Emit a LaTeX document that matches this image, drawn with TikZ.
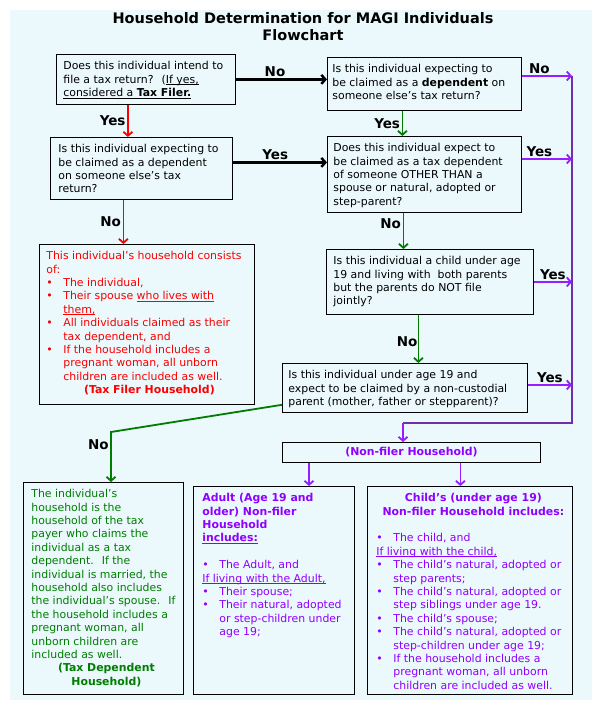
\documentclass[tikz,border=0pt]{standalone}
\usepackage{fontspec}
\setmainfont{DejaVu Sans}
\usetikzlibrary{arrows.meta}

\definecolor{bgcyan}{RGB}{235,249,253}
\definecolor{fhred}{RGB}{250,0,0}
\definecolor{tdgreen}{RGB}{0,125,0}
\definecolor{nfviolet}{RGB}{145,0,255}
\definecolor{busviolet}{RGB}{112,48,170}
\definecolor{arrowviolet}{RGB}{150,30,255}

% text of a box: left pad, box width, box height, contents
\newcommand{\boxtext}[4]{\hspace*{#1}\parbox[t][\dimexpr#3-14pt\relax][t]{\dimexpr#2-#1-2pt\relax}{\raggedright #4}\hspace*{2pt}}
\newcommand{\bul}[1]{\par\hangindent=17pt\hangafter=1\noindent\makebox[17pt][l]{\textbullet}#1}
\newcommand{\uln}[1]{\underline{\smash{#1}}}

\begin{document}
\begin{tikzpicture}[x=1pt,y=-1pt,>={Straight Barb[length=4pt,width=9pt]}]
	\tikzstyle{box}=[draw, line width=0.8pt, anchor=north west, inner xsep=0pt, inner ysep=7pt, font=\fontsize{10.9}{13.4}\selectfont]
	\tikzstyle{lbl}=[text=black, font=\fontsize{13.5}{16}\selectfont\bfseries, inner sep=1.5pt]
	\tikzstyle{blackarrow}=[->, line width=2.5pt]
	\tikzstyle{redarrow}=[->, line width=1.8pt, fhred]
	\tikzstyle{greenarrow}=[->, line width=1.8pt, tdgreen]
	\tikzstyle{violetarrow}=[->, line width=1.8pt, arrowviolet]
	\tikzstyle{busline}=[line width=2pt, busviolet]
	\fill[white] (0,0) rectangle (603,711);
	\useasboundingbox (0,0) rectangle (603,711);
	\fill[bgcyan] (10,10) rectangle (592,700);
		\node[font=\fontsize{14.5}{17}\selectfont\bfseries, align=center] (title) at (303,27) {Household Determination for MAGI Individuals\\Flowchart};
	% questions
		\node[box] (filer) at (56,54) {\boxtext{7pt}{179pt}{50pt}{Does this individual intend to\\ file a tax return?~ (\uln{If yes,}\\ \uln{considered a \textbf{Tax Filer.}}}};
		\node[box] (dependent) at (327,57) {\boxtext{5pt}{194pt}{53pt}{Is this individual expecting to\\ be claimed as a \textbf{dependent} on\\ someone else’s tax return?}};
		\node[box] (expect) at (50,137) {\boxtext{8pt}{182pt}{62pt}{Is this individual expecting to\\ be claimed as a dependent\\ on someone else’s tax\\ return?}};
		\node[box] (other) at (327,136) {\boxtext{6pt}{194pt}{76pt}{Does this individual expect to\\ be claimed as a tax dependent\\ of someone OTHER THAN a\\ spouse or natural, adopted or\\ step-parent?}};
		\node[box, text=fhred] (filerhh) at (39,244) {\boxtext{7pt}{215pt}{160pt}{This individual’s household consists\\ of:
			\bul{The individual,}
			\bul{Their spouse \uln{who lives with}\newline\uln{them,}}
			\bul{All individuals claimed as their\newline tax dependent, and}
			\bul{If the household includes a\newline pregnant woman, all unborn\newline children are included as well.}
			\par{\centering\bfseries (Tax Filer Household)\par}}};
		\node[box] (child) at (326,249) {\boxtext{7pt}{207pt}{65pt}{Is this individual a child under age\\ 19 and living with~ both parents\\ but the parents do NOT file\\ jointly?}};
		\node[box] (noncust) at (282,363) {\boxtext{6pt}{245pt}{49pt}{Is this individual under age 19 and\\ expect to be claimed by a non-custodial\\ parent (mother, father or stepparent)?}};
	% households
		\node[draw, line width=0.8pt, anchor=north west, minimum width=258pt, minimum height=20pt, inner sep=0pt, text=nfviolet, font=\fontsize{10.9}{13.4}\selectfont\bfseries] (nonfiler) at (282,442) {(Non-filer Household)};
		\node[box, text=tdgreen] (taxdep) at (23,482) {\boxtext{8pt}{160pt}{212pt}{The individual’s\\ household is the\\ household of the tax\\ payer who claims the\\ individual as a tax\\ dependent.~ If the\\ individual is married, the\\ household also includes\\ the individual’s spouse.~ If\\ the household includes a\\ pregnant woman, all\\ unborn children are\\ included as well.
			\par{\centering\bfseries (Tax Dependent\\ Household)\par}}};
		\node[box, text=nfviolet] (adult) at (193,486) {\boxtext{9pt}{161pt}{208pt}{{\bfseries Adult (Age 19 and\\ older) Non-filer\\ Household\\ \uln{includes:}\par}
			\mbox{}\par
			\bul{The Adult, and}
			\par\uln{If living with the Adult,}
			\bul{Their spouse;}
			\bul{Their natural, adopted\newline or step-children under\newline age 19;}}};
		\node[box, text=nfviolet] (childhh) at (367,486) {\boxtext{9pt}{205pt}{208pt}{{\centering\bfseries Child’s (under age 19)\\ Non-filer Household includes:\par}
			\mbox{}\par
			\bul{The child, and}
			\par\uln{If living with the child,}
			\bul{The child’s natural, adopted or\newline step parents;}
			\bul{The child’s natural, adopted or\newline step siblings under age 19.}
			\bul{The child’s spouse;}
			\bul{The child’s natural, adopted or\newline step-children under age 19;}
			\bul{If the household includes a\newline pregnant woman, all unborn\newline children are included as well.}}};
	% connectors
		\coordinate (busB) at (572,76);
		\coordinate (busD) at (572,159);
		\coordinate (busend) at (572,423);
		\coordinate (busturn) at (403,423);
		\coordinate (nobend) at (111,432);
			\draw[blackarrow] (filer.east) -- node[lbl, above, pos=0.43] {No} (filer.east -| dependent.west);
			\draw[redarrow] ([xshift=-18pt]filer.south) -- node[lbl, left] {Yes} ([xshift=-18pt]filer.south |- expect.north);
			\draw[greenarrow] ([xshift=-22pt]dependent.south) -- node[lbl, left] {Yes} ([xshift=-22pt]dependent.south |- other.north);
			\draw[blackarrow] ([yshift=6pt]expect.east) -- node[lbl, above, pos=0.45] {Yes} ([yshift=6pt]expect.east -| other.west);
			\draw[redarrow] ([xshift=-18pt]expect.south) -- node[lbl, left] {No} ([xshift=-18pt]expect.south |- filerhh.north);
			\draw[greenarrow] ([xshift=-21pt]other.south) -- node[lbl, left, pos=0.3] {No} ([xshift=-21pt]other.south |- child.north);
			\draw[greenarrow] ([xshift=-11.5pt]child.south) -- node[lbl, left, inner sep=0pt, pos=0.55] {No} ([xshift=-11.5pt]child.south |- noncust.north);
			\draw[greenarrow] ([yshift=8pt]noncust.south west) -- (nobend) -- node[lbl, left, pos=0.25] {No} (nobend |- taxdep.north);
			\draw[busline] (busB) -- (busend) -- (busturn);
			\draw[violetarrow] (busturn) -- (busturn |- nonfiler.north);
			\draw[violetarrow] (dependent.east |- busB) -- node[lbl, above, pos=0.35] {No} (busB);
			\draw[violetarrow] (other.east |- busD) -- node[lbl, above, pos=0.35] {Yes} (busD);
			\draw[violetarrow] (child.east) -- node[lbl, above] {Yes} (child.east -| busB);
			\draw[violetarrow] ([yshift=3pt]noncust.east) -- node[lbl, above] {Yes} ([yshift=3pt]noncust.east -| busB);
			\draw[violetarrow] ([xshift=27pt]nonfiler.south west) -- ([xshift=27pt]nonfiler.south west |- adult.north);
			\draw[violetarrow] ([xshift=49pt]nonfiler.south) -- ([xshift=49pt]nonfiler.south |- childhh.north);
\end{tikzpicture}
\end{document}
